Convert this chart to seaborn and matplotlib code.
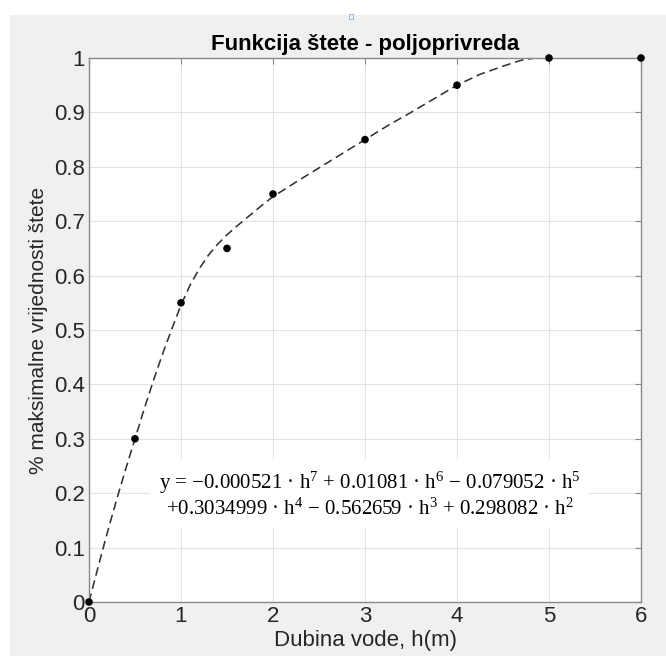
import numpy as np
import pandas as pd
import matplotlib
matplotlib.use("Agg")
import matplotlib.pyplot as plt
import seaborn as sns
from matplotlib.patches import Rectangle

# measured points (water depth h in m, share of max damage)
depth = [0, 0.5, 1, 1.5, 2, 3, 4, 5, 6]
damage = [0, 0.30, 0.55, 0.65, 0.75, 0.85, 0.95, 1.0, 1.0]

# fitted curve
curve_h = [0, 0.1, 0.2, 0.3, 0.4, 0.5, 0.6, 0.7, 0.8, 0.9, 1.0, 1.1, 1.2, 1.3, 1.4, 1.5,
           1.6, 1.7, 1.8, 1.9, 2.0, 2.25, 2.5, 2.75, 3.0, 3.25, 3.5, 3.75, 4.0, 4.25, 4.5,
           4.7, 4.85]
curve_y = [0, 0.065, 0.128, 0.188, 0.245, 0.30, 0.355, 0.407, 0.456, 0.502, 0.546, 0.583,
           0.613, 0.638, 0.658, 0.675, 0.69, 0.704, 0.718, 0.732, 0.745, 0.772, 0.798, 0.824,
           0.85, 0.876, 0.90, 0.925, 0.95, 0.97, 0.985, 0.996, 1.0]

x_ticks = [0, 1, 2, 3, 4, 5, 6]
y_ticks = [0, 0.1, 0.2, 0.3, 0.4, 0.5, 0.6, 0.7, 0.8, 0.9, 1]
y_tick_labels = ["0", "0.1", "0.2", "0.3", "0.4", "0.5", "0.6", "0.7", "0.8", "0.9", "1"]

equation = ("y = \u22120.000521 \u00b7 h$^{7}$ + 0.01081 \u00b7 h$^{6}$ \u2212 0.079052 \u00b7 h$^{5}$\n"
            "+0.3034999 \u00b7 h$^{4}$ \u2212 0.562659 \u00b7 h$^{3}$ + 0.298082 \u00b7 h$^{2}$")

sns.set_style("white")
plt.rcParams["font.family"] = ["Liberation Sans", "DejaVu Sans"]
plt.rcParams["mathtext.fontset"] = "custom"
plt.rcParams["mathtext.rm"] = "Liberation Serif"
plt.rcParams["mathtext.it"] = "Liberation Serif"
plt.rcParams["mathtext.default"] = "rm"

fig = plt.figure(figsize=(6.66, 6.56), dpi=100, facecolor="white")
# grey MATLAB figure panel
fig.patches.append(Rectangle((10 / 666, 0), 1, 641 / 656, transform=fig.transFigure,
                             facecolor="#f0f0f0", edgecolor="none", zorder=-10))
fig.patches.append(Rectangle((349 / 666, 637 / 656), 4 / 666, 5 / 656, transform=fig.transFigure,
                             facecolor="none", edgecolor="#8fb0dc", linewidth=0.6))

ax = fig.add_axes([89 / 666, 54 / 656, 552 / 666, 544 / 656])
ax.set_facecolor("white")

pts = pd.DataFrame({"h": depth, "y": damage})
fit = pd.DataFrame({"h": curve_h, "y": curve_y})

sns.lineplot(data=fit, x="h", y="y", ax=ax, color="#333333", linestyle=(0, (5.5, 3)),
             linewidth=1.15, sort=False)
sns.scatterplot(data=pts, x="h", y="y", ax=ax, color="black", s=30, edgecolor="none",
                clip_on=False, zorder=5)

ax.set_xlim(0, 6)
ax.set_ylim(0, 1)
ax.set_xticks(x_ticks)
ax.set_yticks(y_ticks)
ax.set_yticklabels(y_tick_labels)
ax.grid(True, color="#e3e3e3", linewidth=0.8)
ax.set_axisbelow(True)
for sp in ax.spines.values():
    sp.set_visible(True)
    sp.set_color("#8a8a8a")
    sp.set_linewidth(1.0)
ax.tick_params(direction="in", length=4, width=0.8, color="#8a8a8a", top=True, right=True,
               labelsize=16, labelcolor="#262626", pad=3)

ax.set_xlabel("Dubina vode, h(m)", fontsize=16, color="#262626", labelpad=2)
ax.set_ylabel("% maksimalne vrijednosti štete", fontsize=15, color="#262626", labelpad=4)
ax.set_title("Funkcija štete - poljoprivreda", fontsize=16, fontweight="bold", color="black", pad=6)

ax.text(3.05, 0.197, equation, fontsize=15, ha="center", va="center", ma="center",
        linespacing=1.15, color="black", family=["Liberation Serif", "DejaVu Serif"],
        bbox=dict(facecolor="white", edgecolor="none", pad=6))

fig.savefig("out.png", dpi=100, facecolor=fig.get_facecolor())
